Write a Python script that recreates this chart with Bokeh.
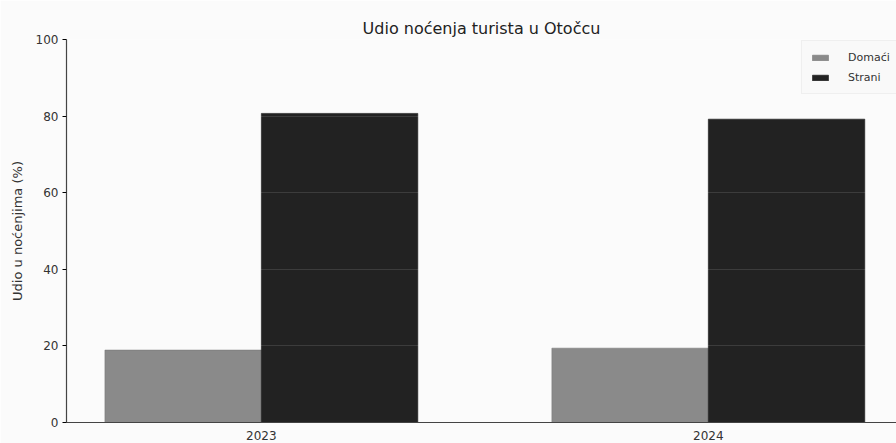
from bokeh.plotting import figure
from bokeh.models import ColumnDataSource, Range1d, FixedTicker, Legend, LegendItem
from bokeh.embed import file_html
from bokeh.resources import INLINE

years = ["2023", "2024"]
domaci = [18.9, 19.4]
strani = [80.7, 79.2]
yticks = [0, 20, 40, 60, 80, 100]

xpos = list(range(len(years)))
w = 0.35
src = ColumnDataSource(dict(
    xd=[x - w / 2 for x in xpos],
    xs=[x + w / 2 for x in xpos],
    d=domaci, s=strani,
))

FONT = "DejaVu Sans"
p = figure(width=896, height=443, output_backend="svg", toolbar_location=None,
           x_range=Range1d(-0.436, 1.421), y_range=Range1d(0, 100),
           min_border_left=66, min_border_right=0, min_border_top=39,
           min_border_bottom=21, title="Udio noćenja turista u Otočcu")
p.outline_line_color = None
p.background_fill_color = "#fbfbfb"
p.border_fill_color = "#fbfbfb"

p.title.align = "center"
p.title.text_font = FONT
p.title.text_font_size = "16px"
p.title.text_font_style = "normal"
p.title.text_color = "#222222"
p.title.offset = 0
p.title.standoff = 4

rd = p.vbar(x="xd", top="d", width=w, bottom=0, source=src,
            fill_color="#8a8a8a", line_color="#7a7a7a", line_width=0.6)
rs = p.vbar(x="xs", top="s", width=w, bottom=0, source=src,
            fill_color="#222222", line_color="#1a1a1a", line_width=0.6)

p.xaxis.ticker = FixedTicker(ticks=xpos)
p.xaxis.major_label_overrides = {i: y for i, y in enumerate(years)}
p.xaxis.major_tick_line_color = None
p.xaxis.minor_tick_line_color = None
p.xaxis.major_label_standoff = 2
p.xaxis.major_label_text_font = FONT
p.xaxis.major_label_text_font_size = "12px"
p.xaxis.major_label_text_color = "#333333"
p.xaxis.axis_line_color = "#444444"
p.xaxis.axis_line_width = 1.2

p.yaxis.ticker = FixedTicker(ticks=yticks)
p.yaxis.minor_tick_line_color = None
p.yaxis.major_tick_out = 4
p.yaxis.major_tick_in = 0
p.yaxis.major_label_standoff = 4
p.yaxis.major_label_text_font = FONT
p.yaxis.major_label_text_font_size = "12px"
p.yaxis.major_label_text_color = "#333333"
p.yaxis.axis_line_color = "#444444"
p.yaxis.axis_line_width = 1.2
p.yaxis.axis_label = "Udio u noćenjima (%)"
p.yaxis.axis_label_text_font = FONT
p.yaxis.axis_label_text_font_size = "13px"
p.yaxis.axis_label_text_font_style = "normal"
p.yaxis.axis_label_text_color = "#333333"
p.yaxis.axis_label_standoff = 8

p.xgrid.grid_line_color = None
p.ygrid.grid_line_color = "#ffffff"
p.ygrid.grid_line_alpha = 0.12
p.ygrid.level = "overlay"

legend = Legend(items=[LegendItem(label="Domaći", renderers=[rd]),
                       LegendItem(label="Strani", renderers=[rs])],
                location=(735, 328))
legend.label_text_font = FONT
legend.label_text_font_size = "11px"
legend.label_text_color = "#333333"
legend.glyph_width = 20
legend.glyph_height = 7
legend.label_height = 16
legend.label_standoff = 18
legend.spacing = 4
legend.padding = 8
legend.border_line_color = "#e6e6e6"
legend.background_fill_color = "#f8f8f8"
legend.background_fill_alpha = 0.9
p.add_layout(legend)

open("out.html", "w").write(file_html(p, INLINE))
